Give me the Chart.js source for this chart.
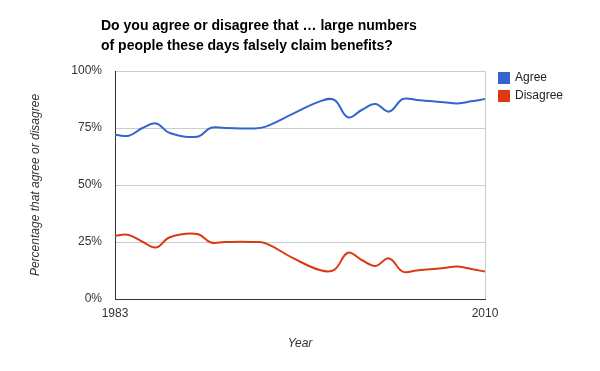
<!DOCTYPE html>
<html>
<head>
  <title>Benefit claims attitudes</title>
  <script src="https://cdn.jsdelivr.net/npm/chart.js"></script>
  <style>
    html, body { margin: 0; padding: 0; background: #fff; }
    #wrap { width: 600px; height: 371px; }
  </style>
</head>
<body>
  <div id="wrap"><canvas id="chart" width="600" height="371"></canvas></div>

  <script>
    // survey years and percentages
    const years    = [1983, 1984, 1985, 1986, 1987, 1989, 1990, 1991, 1993, 1994, 1996, 1998, 1999, 2000, 2001, 2002, 2003, 2004, 2005, 2006, 2007, 2008, 2009, 2010];
    const agree    = [72.0, 71.6, 75.0, 77.0, 72.8, 71.2, 75.1, 75.0, 74.8, 75.6, 81.3, 86.8, 87.3, 79.7, 82.9, 85.5, 82.2, 87.7, 87.3, 86.8, 86.3, 85.8, 86.7, 87.7];
    const disagree = [27.8, 28.1, 25.1, 22.6, 27.1, 28.5, 24.8, 25.0, 25.0, 24.4, 17.9, 12.6, 12.8, 20.3, 17.1, 14.5, 17.8, 12.0, 12.5, 13.0, 13.6, 14.2, 13.2, 12.0];
    const yTicks   = [0, 25, 50, 75, 100];
    const xTicks   = [1983, 2010];

    const seriesNames = ['Agree', 'Disagree'];
    const seriesColors = ['#3366CC', '#DC3912'];
    const titleLines = ['Do you agree or disagree that \u2026 large numbers', 'of people these days falsely claim benefits?'];
    const font = "'Liberation Sans', Arial, sans-serif";

    const toPoints = vals => vals.map((v, i) => ({ x: years[i], y: v }));

    // title, legend and axis titles drawn by hand to sit where the original has them
    const decorations = {
      id: 'decorations',
      afterDraw(chart) {
        const ctx = chart.ctx;
        const area = chart.chartArea;
        ctx.save();
        ctx.fillStyle = '#000';
        ctx.font = 'bold 14px ' + font;
        ctx.textAlign = 'left';
        ctx.textBaseline = 'middle';
        titleLines.forEach((t, i) => ctx.fillText(t, 101, 26 + i * 20));

        ctx.font = '12px ' + font;
        seriesNames.forEach((name, i) => {
          ctx.fillStyle = seriesColors[i];
          ctx.fillRect(498, 72 + i * 18, 12, 12);
          ctx.fillStyle = '#222';
          ctx.fillText(name, 515, 78 + i * 18);
        });

        ctx.font = 'italic 12px ' + font;
        ctx.textAlign = 'center';
        ctx.fillStyle = '#333';
        ctx.fillText('Year', (area.left + area.right) / 2, 344);
        ctx.translate(36, (area.top + area.bottom) / 2);
        ctx.rotate(-Math.PI / 2);
        ctx.fillText('Percentage that agree or disagree', 0, 0);
        ctx.restore();
      }
    };

    new Chart(document.getElementById('chart'), {
      type: 'line',
      data: {
        datasets: [
          { label: seriesNames[0], data: toPoints(agree), borderColor: seriesColors[0], borderWidth: 2, pointRadius: 0, tension: 0.4, fill: false },
          { label: seriesNames[1], data: toPoints(disagree), borderColor: seriesColors[1], borderWidth: 2, pointRadius: 0, tension: 0.4, fill: false }
        ]
      },
      options: {
        responsive: false,
        animation: false,
        layout: { padding: { top: 71, right: 115, bottom: 0, left: 0 } },
        plugins: {
          legend: { display: false },
          title: { display: false },
          tooltip: { enabled: false }
        },
        scales: {
          x: {
            type: 'linear',
            min: 1983,
            max: 2010,
            afterBuildTicks: s => { s.ticks = xTicks.map(v => ({ value: v })); },
            afterFit: s => { s.height = 72; },
            ticks: { color: '#333', font: { family: font, size: 12 }, padding: 7, maxRotation: 0, callback: v => String(v) },
            grid: { drawTicks: false, color: c => (c.tick && c.tick.value === 2010 ? '#ccc' : 'rgba(0,0,0,0)') },
            border: { color: '#333', width: 1 }
          },
          y: {
            min: 0,
            max: 100,
            afterBuildTicks: s => { s.ticks = yTicks.map(v => ({ value: v })); },
            afterFit: s => { s.width = 115; },
            ticks: { color: '#333', font: { family: font, size: 12 }, padding: 13, callback: v => v + '%' },
            grid: { drawTicks: false, color: '#ccc' },
            border: { color: '#333', width: 1 }
          }
        }
      },
      plugins: [decorations]
    });
  </script>
</body>
</html>
